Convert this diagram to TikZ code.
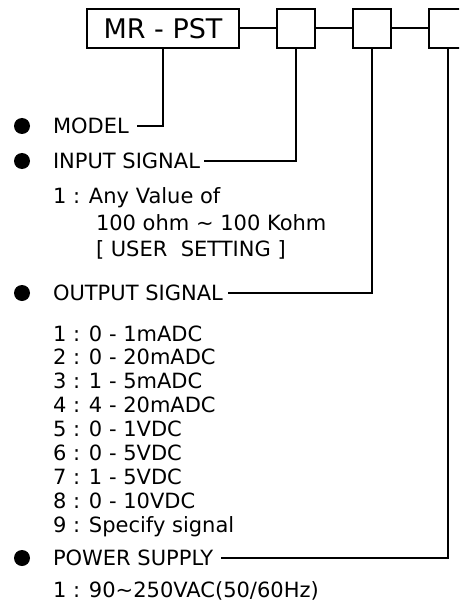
\documentclass[tikz,border=0pt]{standalone}
\usepackage{fontspec}
\setmainfont{DejaVu Sans}
\usepackage{tikz}
\usetikzlibrary{positioning}

\begin{document}
\begin{tikzpicture}[x=1pt, y=-1pt, line width=2pt,
  codebox/.style={draw, rectangle, minimum height=39pt, inner sep=0pt},
  slot/.style={codebox, minimum width=38pt},
  dot/.style={circle, fill=black, inner sep=0pt, minimum size=16pt},
  lbl/.style={anchor=base west, inner sep=0pt, font=\fontsize{21}{25}\selectfont}]
  \useasboundingbox (0,0) rectangle (459,604);
  \clip (0,0) rectangle (459,604);

  % Code boxes
  \node[codebox, minimum width=152pt, font=\fontsize{27}{30}\selectfont]
    (model) at (163,28.5) {MR - PST};
  \node[slot] (input) at (296,28.5) {};
  \node[slot] (output) at (372,28.5) {};
  \node[slot] (power) at (448,28.5) {};
  \draw (model) -- (input) -- (output) -- (power);

  % Model
  \node[dot] (dModel) at (22,126) {};
  \node[lbl] (tModel) at (52,133.5) {MODEL};
  \draw (model.south) |- ([xshift=7pt]tModel.east);

  % Input signal
  \node[dot] (dInput) at (22,161) {};
  \node[lbl] (tInput) at (52,168.5) {INPUT SIGNAL};
  \node[lbl] (in1) at (52,203.5) {1 : Any Value of};
  \node[lbl] (in1a) at (95,230.5) {100 ohm \textasciitilde{} 100 Kohm};
  \node[lbl] (in1b) at (95,256.5) {[ USER\ \ SETTING ]};
  \draw (input.south) |- ([xshift=3pt]tInput.east);

  % Output signal
  \node[dot] (dOutput) at (22,293) {};
  \node[lbl] (tOutput) at (52,300.5) {OUTPUT SIGNAL};
  \foreach \txt [count=\i] in {1 : 0 - 1mADC, 2 : 0 - 20mADC, 3 : 1 - 5mADC,
      4 : 4 - 20mADC, 5 : 0 - 1VDC, 6 : 0 - 5VDC, 7 : 1 - 5VDC,
      8 : 0 - 10VDC, 9 : Specify signal}
    \node[lbl] (out\i) at (52,{341+23.9*(\i-1)}) {\txt};
  \draw (output.south) |- ([xshift=4pt]tOutput.east);

  % Power supply
  \node[dot] (dPower) at (22,558) {};
  \node[lbl] (tPower) at (52,565.5) {POWER SUPPLY};
  \node[lbl] (pw1) at (52,597.5) {1 : 90\textasciitilde250VAC(50/60Hz)};
  \draw (power.south) |- ([xshift=7pt]tPower.east);
\end{tikzpicture}
\end{document}
